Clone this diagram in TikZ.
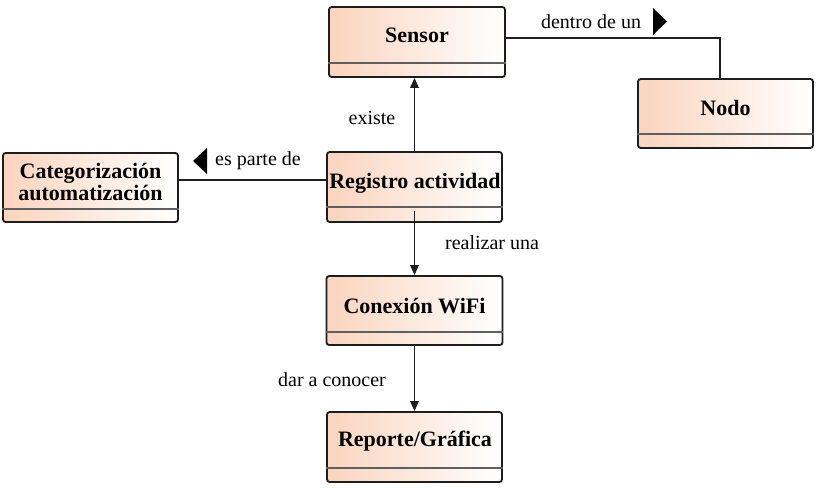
\documentclass[tikz,border=0pt]{standalone}
\usepackage{fontspec}
\setmainfont{Liberation Serif}
\newfontfamily\timesf{Liberation Serif}
\usetikzlibrary{arrows.meta,calc}
\definecolor{peach}{RGB}{250,212,190}
\definecolor{edgec}{RGB}{30,30,30}
\definecolor{sepc}{RGB}{95,95,95}
\begin{document}
\begin{tikzpicture}[x=0.75pt,y=-0.75pt,
  box/.style={draw=edgec, line width=1.4pt, rounded corners=2pt, left color=peach, right color=white, inner sep=0pt},
  ttl/.style={font=\timesf\fontsize{16.5}{18}\selectfont\bfseries, inner sep=0pt, align=center},
  lbl/.style={font=\timesf\fontsize{15}{18}\selectfont, inner sep=0pt},
  sepline/.style={draw=sepc, line width=0.9pt},
  conn/.style={draw=edgec, line width=0.9pt},
  arr/.style={conn, -{Triangle[length=7.5pt,width=6.5pt]}},
  tri/.style={fill=black}]
\useasboundingbox (0,0) rectangle (817,488);

% boxes
\node[box, minimum width=132pt, minimum height=52.5pt] (sensor) at (417,42) {};
\node[ttl] (sensorT) at (417,35) {Sensor};
\draw[sepline] ($(sensor.south west)+(0,-15)$) -- ($(sensor.south east)+(0,-15)$);

\node[box, minimum width=131.25pt, minimum height=51.75pt] (nodo) at (725.5,113.5) {};
\node[ttl] (nodoT) at (725.5,108) {Nodo};
\draw[sepline] ($(nodo.south west)+(0,-15)$) -- ($(nodo.south east)+(0,-15)$);

\node[box, minimum width=131.25pt, minimum height=51.75pt] (cat) at (90.5,187.5) {};
\node[ttl] (catT) at (90.5,182) {Categorización\\[-1pt]automatización};
\draw[sepline] ($(cat.south west)+(0,-14)$) -- ($(cat.south east)+(0,-14)$);

\node[box, minimum width=131.25pt, minimum height=52.5pt] (reg) at (414.5,187) {};
\node[ttl] (regT) at (415,183) {Registro actividad};
\draw[sepline] ($(reg.south west)+(0,-16)$) -- ($(reg.south east)+(0,-16)$);

\node[box, minimum width=132pt, minimum height=51.75pt] (wifi) at (414.5,310.5) {};
\node[ttl] (wifiT) at (414.5,306) {Conexión WiFi};
\draw[sepline] ($(wifi.south west)+(0,-14)$) -- ($(wifi.south east)+(0,-14)$);

\node[box, minimum width=131.25pt, minimum height=52.5pt] (rep) at (414.5,447) {};
\node[ttl] (repT) at (415,441) {Reporte/Gráfica};
\draw[sepline] ($(rep.south west)+(0,-15)$) -- ($(rep.south east)+(0,-15)$);

% connectors
\coordinate (bend) at (720,38);
\draw[conn] (sensor.east |- bend) -- (bend) -- (bend |- nodo.north);
\coordinate (lev) at (0,180);
\draw[conn] (reg.west |- lev) -- (cat.east |- lev);
\draw[arr] (reg.north) -- (reg.north |- sensor.south);
\draw[arr] ($(reg.south)+(0,-12)$) -- (wifi.north);
\draw[arr] (wifi.south) -- (rep.north);

% labels
\node[lbl] (l1) at (591,22) {dentro de un};
\fill[tri] (653,8) -- (667,21.5) -- (653,35) -- cycle;
\node[lbl] (l2) at (258,161) {es parte de};
\fill[tri] (207,148) -- (193,161) -- (207,174) -- cycle;
\node[lbl] (l3) at (372,118) {existe};
\node[lbl] (l4) at (492,243) {realizar una};
\node[lbl] (l5) at (332,380) {dar a conocer};
\end{tikzpicture}
\end{document}
